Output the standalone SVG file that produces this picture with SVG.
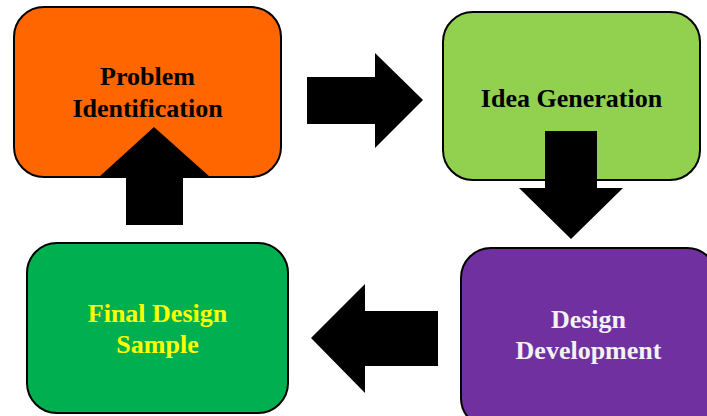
<svg xmlns="http://www.w3.org/2000/svg" width="707" height="416" viewBox="0 0 707 416">
  <style>
    .box { stroke: #000; stroke-width: 2; }
    .label { font-family: "Liberation Serif", "Times New Roman", serif; font-weight: bold; font-size: 26px; text-anchor: middle; }
    .arrow { fill: #000; }
  </style>
  <rect width="707" height="416" fill="#fff"/>

  <g id="node-problem">
    <rect class="box" x="14" y="7" width="267" height="170" rx="30" fill="#FF6600"/>
    <text class="label" x="147.5" y="85" fill="#000">Problem</text>
    <text class="label" x="147.5" y="117" fill="#000">Identification</text>
  </g>

  <g id="node-idea">
    <rect class="box" x="443" y="12" width="257" height="168" rx="30" fill="#92D050"/>
    <text class="label" x="571.5" y="107" fill="#000">Idea Generation</text>
  </g>

  <g id="node-final">
    <rect class="box" x="27" y="243" width="261" height="170" rx="30" fill="#00B050"/>
    <text class="label" x="157.5" y="322" fill="#FFFF00">Final Design</text>
    <text class="label" x="157.5" y="353" fill="#FFFF00">Sample</text>
  </g>

  <g id="node-development">
    <rect class="box" x="461" y="248" width="256" height="180" rx="30" fill="#7030A0"/>
    <text class="label" x="588.5" y="328" fill="#F2F2F2">Design</text>
    <text class="label" x="588.5" y="359" fill="#F2F2F2">Development</text>
  </g>

  <g id="connectors">
    <!-- Problem Identification -> Idea Generation -->
    <polygon class="arrow" points="307,77 375,77 375,53 423,100 375,148 375,124 307,124"/>
    <!-- Idea Generation -> Design Development -->
    <polygon class="arrow" points="545,131 597,131 597,188 623,188 571,239 519,188 545,188"/>
    <!-- Design Development -> Final Design Sample -->
    <polygon class="arrow" points="438,311 365,311 365,284 311,338 365,393 365,366 438,366"/>
    <!-- Final Design Sample -> Problem Identification -->
    <polygon class="arrow" points="126,225 126,177 99,177 154,127 210,177 183,177 183,225"/>
  </g>
</svg>
